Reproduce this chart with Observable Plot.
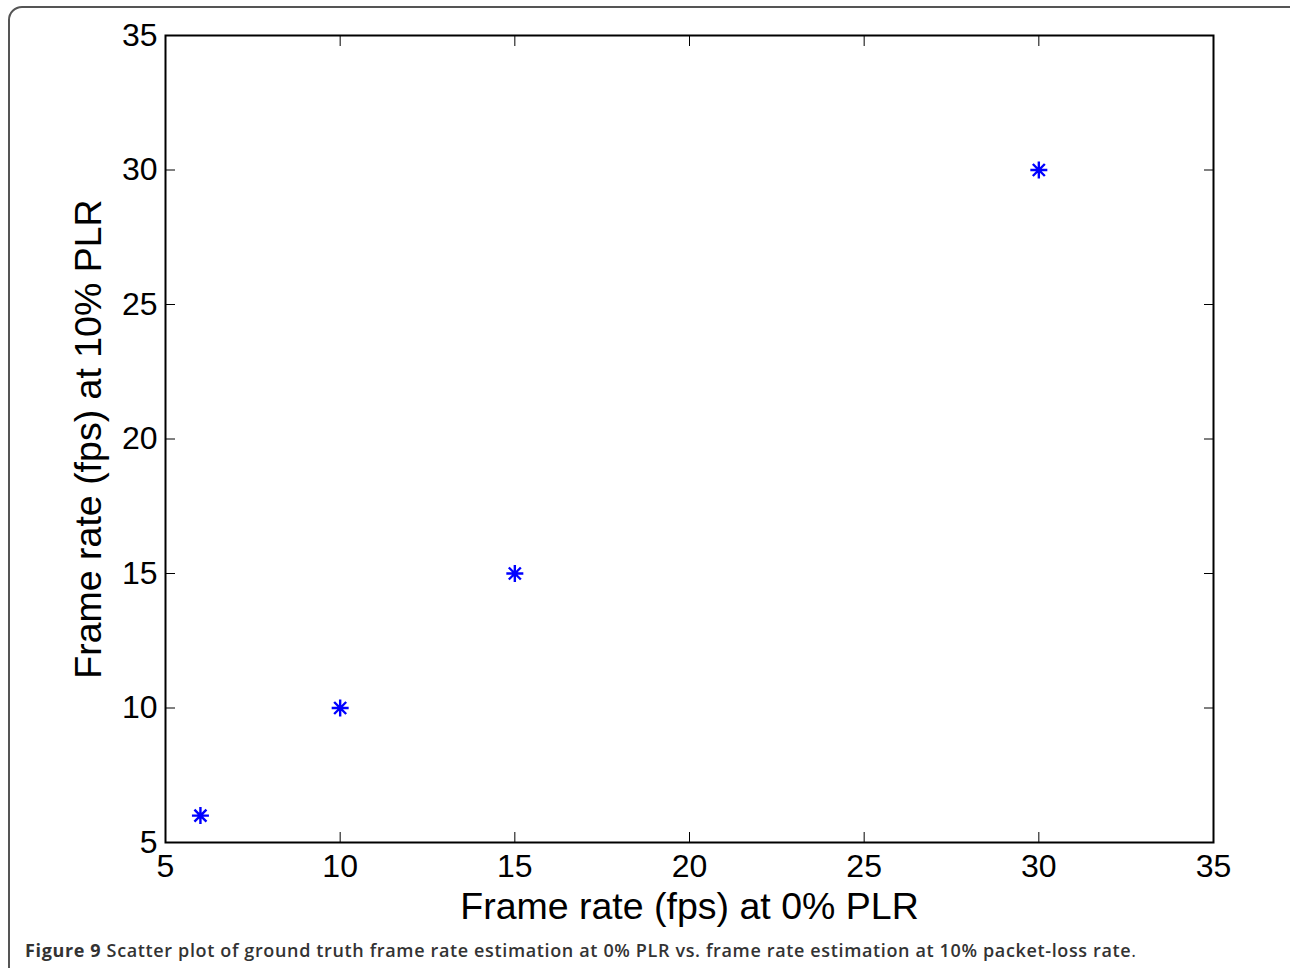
<!DOCTYPE html>
<html>
<head>
<meta charset="utf-8">
<script src="https://cdn.jsdelivr.net/npm/d3@7"></script>
<script src="https://cdn.jsdelivr.net/npm/@observablehq/plot@0.6"></script>
<style>
  html, body { margin: 0; padding: 0; background: #fff; }
  #wrap { position: relative; width: 1290px; height: 968px; overflow: hidden; }
  #border { position: absolute; left: 8px; top: 6px; width: 1300px; height: 1000px;
            border: 2px solid #555; border-radius: 14px; box-sizing: border-box; }
  #chart { position: absolute; left: 0; top: 0; }
  #caption { position: absolute; left: 25px; top: 938px; font-family: "Open Sans", sans-serif;
             font-size: 18px; font-weight: 600; color: #333; white-space: nowrap; letter-spacing: 0.64px; }
  #caption b { font-weight: 700; }
</style>
</head>
<body>
<div id="wrap">
  <div id="border"></div>
  <div id="chart"></div>
  <div id="caption"><b>Figure 9</b> Scatter plot of ground truth frame rate estimation at 0% PLR vs. frame rate estimation at 10% packet-loss rate<span style="font-weight:400">.</span></div>
</div>
<script>
const xValues = [6, 10, 15, 30];
const yValues = [6, 10, 15, 30];
const tickValues = [5, 10, 15, 20, 25, 30, 35];
const xLabel = "Frame rate (fps) at 0% PLR";
const yLabel = "Frame rate (fps) at 10% PLR";

const points = xValues.map((x, i) => ({x, y: yValues[i]}));

// MATLAB-style asterisk: plus + times
const asterisk = {
  draw(context, size) {
    const r = Math.sqrt(size / Math.PI);
    const d = r * Math.SQRT1_2;
    context.moveTo(-r, 0); context.lineTo(r, 0);
    context.moveTo(0, -r); context.lineTo(0, r);
    context.moveTo(-d, -d); context.lineTo(d, d);
    context.moveTo(-d, d); context.lineTo(d, -d);
  }
};

const font = "'Liberation Sans', Arial, Helvetica, sans-serif";

const plot = Plot.plot({
  width: 1290,
  height: 930,
  marginLeft: 165,
  marginRight: 77,
  marginTop: 35,
  marginBottom: 88,
  style: {fontFamily: font, color: "#000", background: "transparent"},
  x: {domain: [5, 35]},
  y: {domain: [5, 35]},
  marks: [
    Plot.frame({stroke: "#000", strokeWidth: 2}),
    // inward ticks on all four sides
    Plot.axisX(tickValues, {anchor: "bottom", tickSize: -10, text: null, label: null, stroke: "#000"}),
    Plot.axisX(tickValues, {anchor: "top", tickSize: -10, text: null, label: null, stroke: "#000"}),
    Plot.axisY(tickValues, {anchor: "left", tickSize: -10, text: null, label: null, stroke: "#000"}),
    Plot.axisY(tickValues, {anchor: "right", tickSize: -10, text: null, label: null, stroke: "#000"}),
    // tick labels
    Plot.axisX(tickValues, {anchor: "bottom", tickSize: 0, tickPadding: 12, label: null, fontSize: 32, fill: "#000", tickFormat: d => String(d)}),
    Plot.axisY(tickValues, {anchor: "left", tickSize: 0, tickPadding: 8, label: null, fontSize: 32, fill: "#000", tickFormat: d => String(d)}),
    // axis titles
    Plot.text([xLabel], {frameAnchor: "bottom", lineAnchor: "middle", textAnchor: "middle", dy: 64, fontSize: 37.5, fill: "#000"}),
    Plot.text([yLabel], {frameAnchor: "left", lineAnchor: "middle", textAnchor: "middle", rotate: -90, dx: -77, fontSize: 37.5, fill: "#000"}),
    // data
    Plot.dot(points, {x: "x", y: "y", symbol: asterisk, r: 8.5, stroke: "#0000ff", strokeWidth: 2.4, fill: "none"})
  ]
});
document.getElementById("chart").appendChild(plot);
</script>
</body>
</html>
